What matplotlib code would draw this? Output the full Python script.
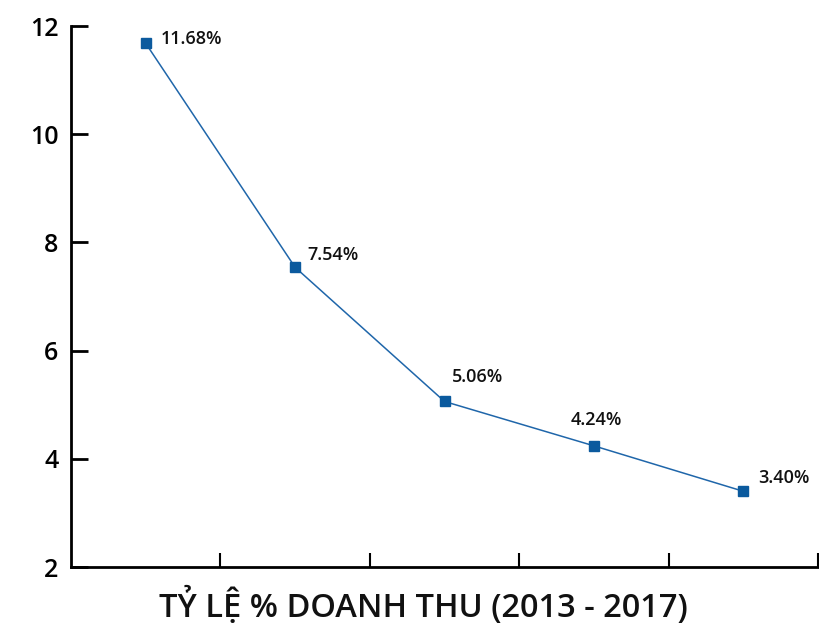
import matplotlib
matplotlib.use("Agg")
import matplotlib.pyplot as plt
import numpy as np

plt.rcParams['font.family'] = ['Open Sans', 'DejaVu Sans']

years = ["2013", "2014", "2015", "2016", "2017"]
values = [11.68, 7.54, 5.06, 4.24, 3.40]
labels = ["11.68%", "7.54%", "5.06%", "4.24%", "3.40%"]
y_ticks = [2, 4, 6, 8, 10, 12]
xlabel = "TỶ LỆ % DOANH THU (2013 - 2017)"

# label offsets in pixels (style)
offsets = [(15, 4), (12, 12), (7, 24), (-23, 26), (15, 13)]

fig = plt.figure(figsize=(8.2, 6.24), dpi=100)
ax = fig.add_axes([0.0866, 0.0913, 0.9110, 0.8670])

x = np.arange(len(values))
ax.plot(x, values, color="#1f66aa", lw=1.1, marker="s", markersize=6.5,
        markerfacecolor="#0b5a9e", markeredgecolor="#0b5a9e", zorder=3)

for xi, v, lab, (dx, dy) in zip(x, values, labels, offsets):
    ax.annotate(lab, (xi, v), xytext=(dx * 0.72, dy * 0.72), textcoords="offset points",
                ha="left", va="center", fontsize=13, color="#111111", fontweight="semibold")

ax.set_xlim(-0.5, len(values) - 0.5)
ax.set_ylim(2, 12)
ax.set_yticks(y_ticks)
ax.set_yticklabels([str(t) for t in y_ticks], fontsize=18, fontweight="semibold")
ax.set_xticks(np.arange(0.5, len(values) - 0.4, 1.0))
ax.set_xticklabels([])

ax.spines['top'].set_visible(False)
ax.spines['right'].set_visible(False)
for s in ['left', 'bottom']:
    ax.spines[s].set_linewidth(2)
    ax.spines[s].set_color("#000000")

ax.tick_params(axis='y', direction='in', length=12, width=2, pad=9, colors="#000000")
ax.tick_params(axis='x', direction='in', length=10, width=1.5)

fig.text(0.516, 0.012, xlabel, fontsize=23.5, fontweight="semibold", color="#111111",
         ha="center", va="baseline")

fig.savefig("out.png", dpi=100)
